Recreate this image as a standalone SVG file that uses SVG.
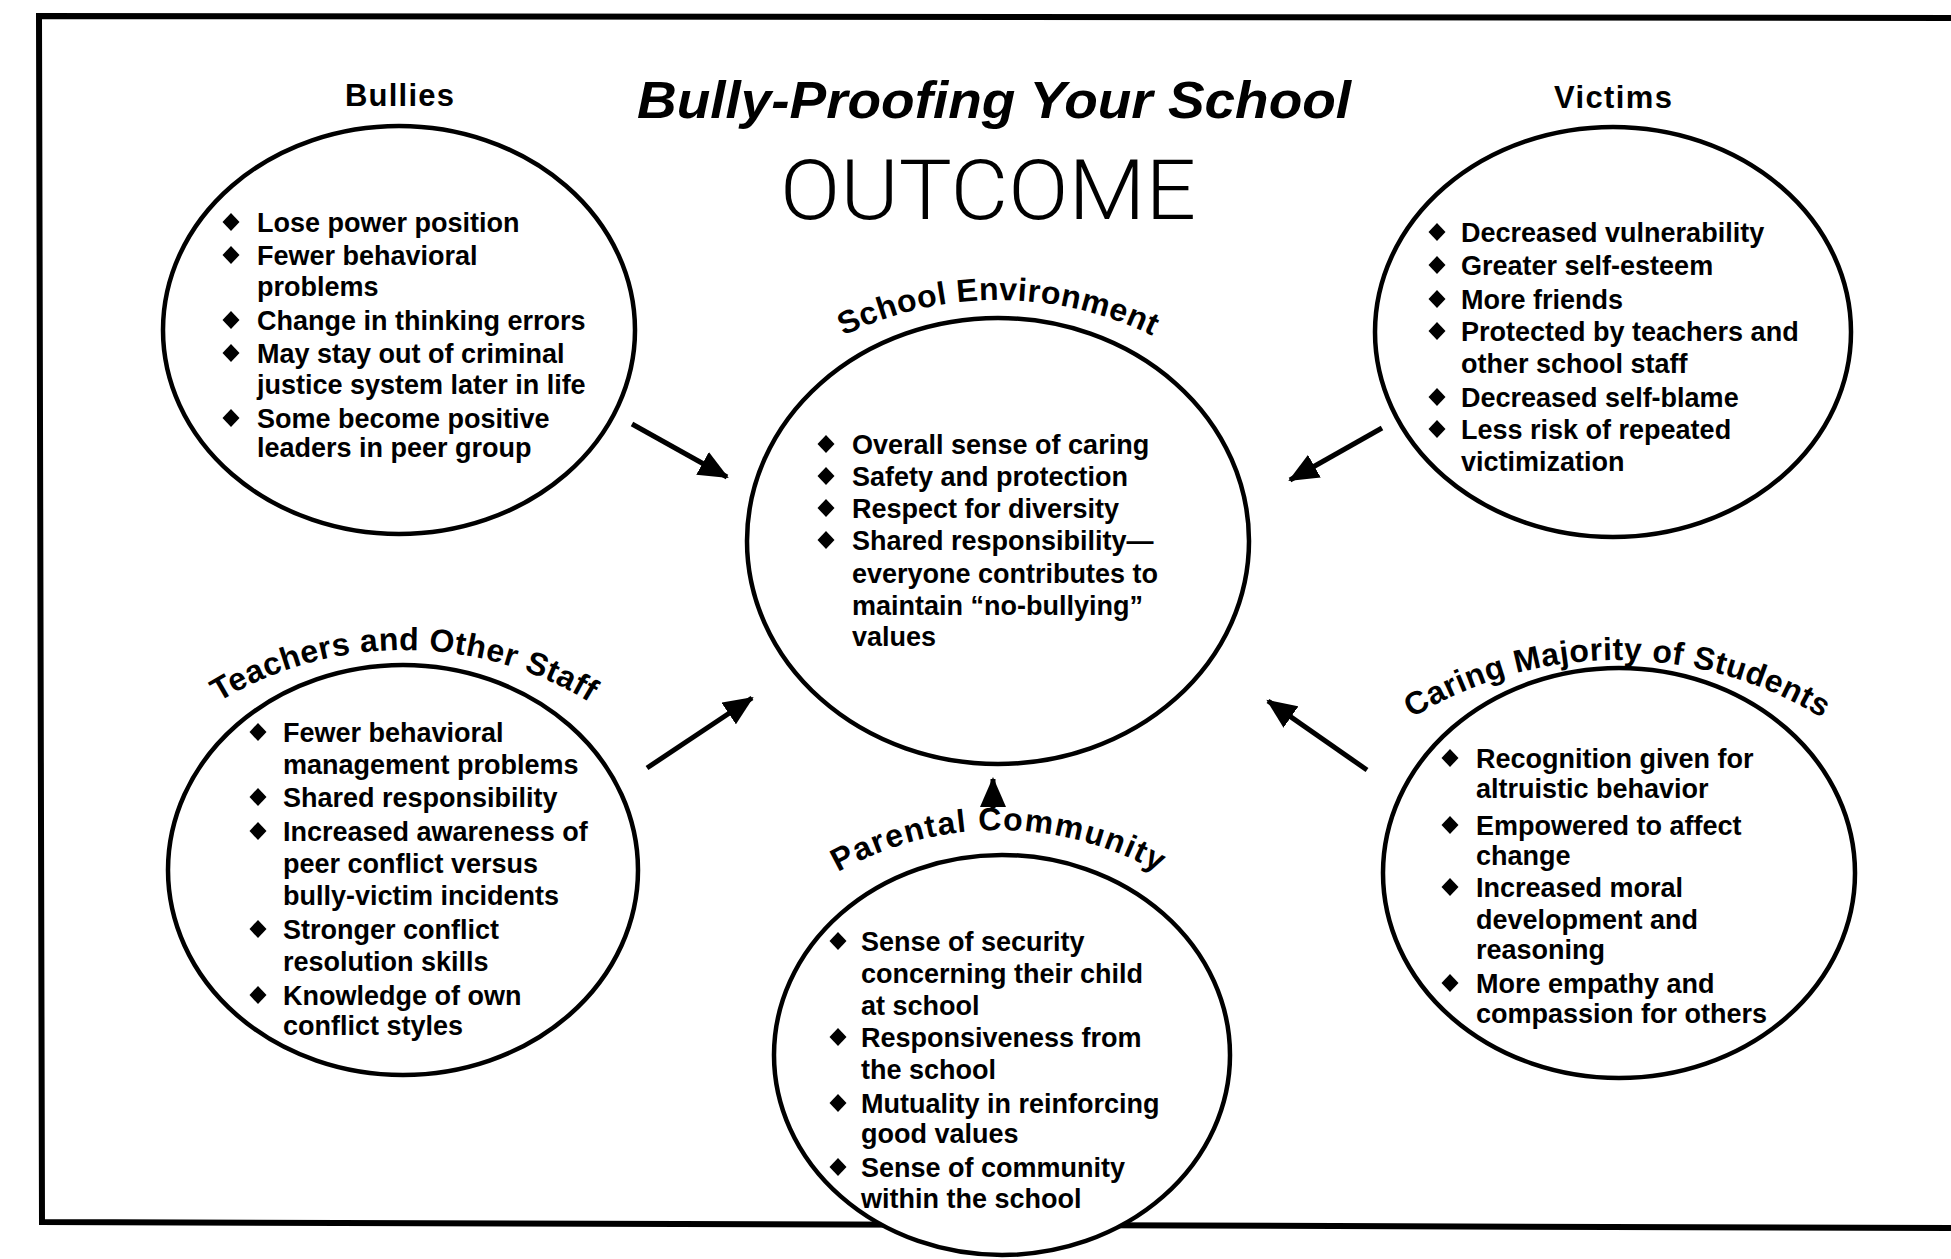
<svg xmlns="http://www.w3.org/2000/svg" xmlns:xlink="http://www.w3.org/1999/xlink" width="1951" height="1259" viewBox="0 0 1951 1259">
<style>
.bg{fill:#fff}
.frame{fill:none;stroke:#000;stroke-width:6}
.oval{fill:#fff;stroke:#000;stroke-width:4.5}
.t{font-family:"Liberation Sans",Arial,sans-serif;font-weight:bold;font-size:27px;fill:#000}
.lbl{font-family:"Liberation Sans",Arial,sans-serif;font-weight:bold;font-size:31px;fill:#000}
.arcl{font-family:"Liberation Sans",Arial,sans-serif;font-weight:bold;font-size:32px;fill:#000}
.title{font-family:"Liberation Sans",Arial,sans-serif;font-weight:bold;font-style:italic;font-size:52px;fill:#000}
.out{font-family:Roboto,Lato,"DejaVu Sans",sans-serif;font-weight:300;font-size:84px;fill:#000}
.arr{fill:none;stroke:#000;stroke-width:5}
</style>
<defs>
<path id="b" d="M0,-9 L8.5,0 L0,9 L-8.5,0Z" fill="#000"/>
<marker id="ah" markerUnits="userSpaceOnUse" markerWidth="32" markerHeight="26" refX="28" refY="13" orient="auto">
<path d="M0,0 L30,13 L0,26 Z" fill="#000"/>
</marker>
<path id="arcSchool" d="M648,650 A350,350 0 0 1 1348,650"/>
<path id="arcTeach" d="M48,1006 A356,356 0 0 1 760,1006"/>
<path id="arcParent" d="M672,1156 A326,326 0 0 1 1324,1156"/>
<path id="arcCaring" d="M1226,1051 A391,391 0 0 1 2008,1051"/>
</defs>
<rect class="bg" x="0" y="0" width="1951" height="1259"/>
<path class="frame" d="M1951,18 L39,16 L42,1222 L1951,1228"/>

<g id="title">
<text class="title" x="637" y="118" textLength="714" lengthAdjust="spacingAndGlyphs">Bully-Proofing Your School</text>
<text class="out" x="780" y="219" textLength="416" lengthAdjust="spacingAndGlyphs">OUTCOME</text>
</g>

<g id="connectors">
<line class="arr" x1="632" y1="424" x2="727" y2="477" marker-end="url(#ah)"/>
<line class="arr" x1="1382" y1="428" x2="1290" y2="480" marker-end="url(#ah)"/>
<line class="arr" x1="647" y1="768" x2="752" y2="698" marker-end="url(#ah)"/>
<line class="arr" x1="1367" y1="770" x2="1268" y2="701" marker-end="url(#ah)"/>
<line class="arr" x1="993" y1="808" x2="993" y2="779" marker-end="url(#ah)"/>
</g>

<g id="node-bullies">
<text class="lbl" x="345" y="106" textLength="109" lengthAdjust="spacing">Bullies</text>
<ellipse class="oval" cx="399" cy="330" rx="236" ry="204"/>
<use href="#b" x="231" y="222"/><text class="t" x="257" y="232">Lose power position</text>
<use href="#b" x="231" y="255"/><text class="t" x="257" y="265">Fewer behavioral</text>
<text class="t" x="257" y="296">problems</text>
<use href="#b" x="231" y="320"/><text class="t" x="257" y="330">Change in thinking errors</text>
<use href="#b" x="231" y="353"/><text class="t" x="257" y="363">May stay out of criminal</text>
<text class="t" x="257" y="394">justice system later in life</text>
<use href="#b" x="231" y="418"/><text class="t" x="257" y="428">Some become positive</text>
<text class="t" x="257" y="457">leaders in peer group</text>
</g>

<g id="node-victims">
<text class="lbl" x="1554" y="108" textLength="118" lengthAdjust="spacing">Victims</text>
<ellipse class="oval" cx="1613" cy="332" rx="238" ry="205"/>
<use href="#b" x="1437" y="232"/><text class="t" x="1461" y="242">Decreased vulnerability</text>
<use href="#b" x="1437" y="265"/><text class="t" x="1461" y="275">Greater self-esteem</text>
<use href="#b" x="1437" y="299"/><text class="t" x="1461" y="309">More friends</text>
<use href="#b" x="1437" y="331"/><text class="t" x="1461" y="341">Protected by teachers and</text>
<text class="t" x="1461" y="373">other school staff</text>
<use href="#b" x="1437" y="397"/><text class="t" x="1461" y="407">Decreased self-blame</text>
<use href="#b" x="1437" y="429"/><text class="t" x="1461" y="439">Less risk of repeated</text>
<text class="t" x="1461" y="471">victimization</text>
</g>

<g id="node-school">
<text class="arcl"><textPath href="#arcSchool" startOffset="50%" text-anchor="middle" textLength="320" lengthAdjust="spacing">School Environment</textPath></text>
<ellipse class="oval" cx="998" cy="541" rx="251" ry="223"/>
<use href="#b" x="826" y="444"/><text class="t" x="852" y="454">Overall sense of caring</text>
<use href="#b" x="826" y="476"/><text class="t" x="852" y="486">Safety and protection</text>
<use href="#b" x="826" y="508"/><text class="t" x="852" y="518">Respect for diversity</text>
<use href="#b" x="826" y="540"/><text class="t" x="852" y="550">Shared responsibility—</text>
<text class="t" x="852" y="583">everyone contributes to</text>
<text class="t" x="852" y="615">maintain “no-bullying”</text>
<text class="t" x="852" y="646">values</text>
</g>

<g id="node-teachers">
<text class="arcl"><textPath href="#arcTeach" startOffset="50%" text-anchor="middle" textLength="390" lengthAdjust="spacing">Teachers and Other Staff</textPath></text>
<ellipse class="oval" cx="403" cy="870" rx="235" ry="205"/>
<use href="#b" x="258" y="732"/><text class="t" x="283" y="742">Fewer behavioral</text>
<text class="t" x="283" y="774">management problems</text>
<use href="#b" x="258" y="797"/><text class="t" x="283" y="807">Shared responsibility</text>
<use href="#b" x="258" y="831"/><text class="t" x="283" y="841">Increased awareness of</text>
<text class="t" x="283" y="873">peer conflict versus</text>
<text class="t" x="283" y="905">bully-victim incidents</text>
<use href="#b" x="258" y="929"/><text class="t" x="283" y="939">Stronger conflict</text>
<text class="t" x="283" y="971">resolution skills</text>
<use href="#b" x="258" y="995"/><text class="t" x="283" y="1005">Knowledge of own</text>
<text class="t" x="283" y="1035">conflict styles</text>
</g>

<g id="node-parental">
<ellipse class="oval" cx="1002" cy="1055" rx="228" ry="200"/>
<text class="arcl"><textPath href="#arcParent" startOffset="50%" text-anchor="middle" textLength="335" lengthAdjust="spacing">Parental Community</textPath></text>
<use href="#b" x="838" y="941"/><text class="t" x="861" y="951">Sense of security</text>
<text class="t" x="861" y="983">concerning their child</text>
<text class="t" x="861" y="1015">at school</text>
<use href="#b" x="838" y="1037"/><text class="t" x="861" y="1047">Responsiveness from</text>
<text class="t" x="861" y="1079">the school</text>
<use href="#b" x="838" y="1103"/><text class="t" x="861" y="1113">Mutuality in reinforcing</text>
<text class="t" x="861" y="1143">good values</text>
<use href="#b" x="838" y="1167"/><text class="t" x="861" y="1177">Sense of community</text>
<text class="t" x="861" y="1208">within the school</text>
</g>

<g id="node-caring">
<text class="arcl"><textPath href="#arcCaring" startOffset="50%" text-anchor="middle" textLength="432" lengthAdjust="spacing">Caring Majority of Students</textPath></text>
<ellipse class="oval" cx="1619" cy="873" rx="236" ry="205"/>
<use href="#b" x="1450" y="758"/><text class="t" x="1476" y="768">Recognition given for</text>
<text class="t" x="1476" y="798">altruistic behavior</text>
<use href="#b" x="1450" y="825"/><text class="t" x="1476" y="835">Empowered to affect</text>
<text class="t" x="1476" y="865">change</text>
<use href="#b" x="1450" y="887"/><text class="t" x="1476" y="897">Increased moral</text>
<text class="t" x="1476" y="929">development and</text>
<text class="t" x="1476" y="959">reasoning</text>
<use href="#b" x="1450" y="983"/><text class="t" x="1476" y="993">More empathy and</text>
<text class="t" x="1476" y="1023">compassion for others</text>
</g>
</svg>
